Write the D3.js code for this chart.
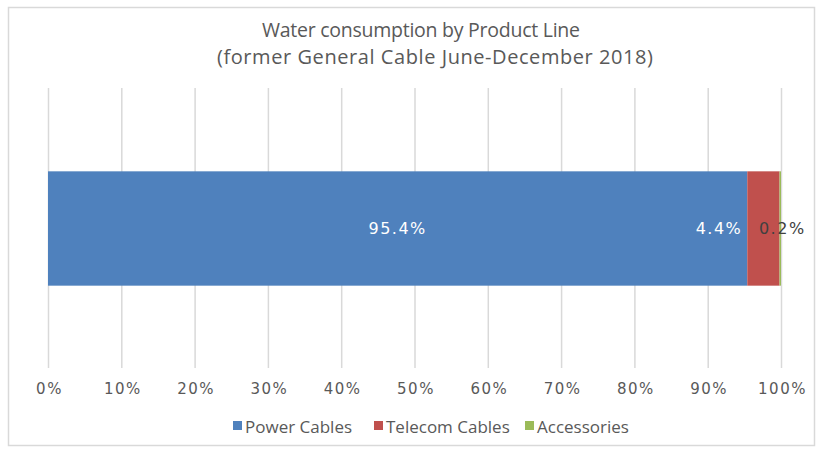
<!DOCTYPE html>
<html>
<head>
<meta charset="utf-8">
<script src="https://cdn.jsdelivr.net/npm/d3@7"></script>
<style>
  html, body { margin: 0; padding: 0; background: #fff; }
  svg { display: block; }
</style>
</head>
<body>
<svg id="chart" width="820" height="450"></svg>
<script>
// Share of water consumption per product line (percent)
const categories = ["Power Cables", "Telecom Cables", "Accessories"];
const shares = [95.4, 4.4, 0.2];
const colors = ["#4F81BD", "#C0504D", "#9BBB59"];
const tickValues = [0, 10, 20, 30, 40, 50, 60, 70, 80, 90, 100];
const titleLines = ["Water consumption by Product Line", "(former General Cable June-December 2018)"];

const svg = d3.select("#chart");
const W = 820, H = 450;
const margin = { left: 48, right: 39, top: 88, bottom: 83 };

// Outer chart frame
svg.append("rect")
  .attr("x", 8.5).attr("y", 7.5)
  .attr("width", W - 14).attr("height", H - 12)
  .attr("fill", "#fff").attr("stroke", "#d9d9d9").attr("stroke-width", 1.5);

const x = d3.scaleLinear().domain([0, 100]).range([margin.left, W - margin.right]);
const y = d3.scaleBand().domain(["row"])
  .range([margin.top + 1, H - margin.bottom + 1])
  .paddingInner(0).paddingOuter(0.72);

// Vertical gridlines
svg.append("g")
  .selectAll("line")
  .data(tickValues)
  .join("line")
  .attr("x1", d => x(d) + 0.5).attr("x2", d => x(d) + 0.5)
  .attr("y1", margin.top).attr("y2", H - margin.bottom + 1)
  .attr("stroke", "#d9d9d9").attr("stroke-width", 1.5);

// Stacked segments
let acc = 0;
const segments = shares.map((v, i) => {
  const s = { key: categories[i], value: v, x0: acc, x1: acc + v, color: colors[i] };
  acc += v;
  return s;
});

svg.append("g")
  .selectAll("rect")
  .data(segments)
  .join("rect")
  .attr("x", d => x(d.x0))
  .attr("y", y("row"))
  .attr("width", d => x(d.x1) - x(d.x0))
  .attr("height", y.bandwidth())
  .attr("fill", d => d.color);

// Value labels
const cy = y("row") + y.bandwidth() / 2;
const labelFont = "'DejaVu Sans', Verdana, sans-serif";
function valueLabel(xPos, anchor, color, text) {
  svg.append("text")
    .attr("x", xPos).attr("y", cy)
    .attr("text-anchor", anchor).attr("dominant-baseline", "central")
    .attr("font-family", labelFont).attr("font-size", 16)
    .attr("letter-spacing", 1.5)
    .attr("fill", color)
    .text(text);
}
valueLabel(x((segments[0].x0 + segments[0].x1) / 2), "middle", "#fff", shares[0].toFixed(1) + "%");
valueLabel(x(segments[1].x0) - 5, "end", "#fff", shares[1].toFixed(1) + "%");
valueLabel(x((segments[2].x0 + segments[2].x1) / 2) + 2, "middle", "#404040", shares[2].toFixed(1) + "%");

// Bottom axis labels
const axis = d3.axisBottom(x).tickValues(tickValues).tickFormat(d => d + "%").tickSize(0).tickPadding(0);
const axisG = svg.append("g")
  .attr("transform", `translate(1, ${H - margin.bottom + 16})`)
  .call(axis);
axisG.select(".domain").remove();
axisG.selectAll("text")
  .attr("font-family", labelFont).attr("font-size", 15)
  .attr("letter-spacing", 1.5)
  .attr("fill", "#595959");

// Title (two centred lines)
const titleX = [421, 435];
const titleWidth = [318, 436];
const titleSize = [19.5, 20];
svg.append("g")
  .selectAll("text")
  .data(titleLines)
  .join("text")
  .attr("x", (d, i) => titleX[i])
  .attr("y", (d, i) => 37 + i * 26.5)
  .attr("text-anchor", "middle")
  .attr("font-family", "'Open Sans', sans-serif")
  .attr("font-size", (d, i) => titleSize[i])
  .attr("textLength", (d, i) => titleWidth[i])
  .attr("lengthAdjust", "spacing")
  .attr("fill", "#595959")
  .text(d => d);

// Legend
const legendX = [233, 374, 525];
const legend = svg.append("g")
  .selectAll("g")
  .data(categories)
  .join("g")
  .attr("transform", (d, i) => `translate(${legendX[i]}, 426)`);
legend.append("rect")
  .attr("x", 0).attr("y", -5).attr("width", 9).attr("height", 9)
  .attr("fill", (d, i) => colors[i]);
legend.append("text")
  .attr("x", 12).attr("y", 0)
  .attr("dominant-baseline", "central")
  .attr("font-family", "'Open Sans', sans-serif").attr("font-size", 17)
  .attr("fill", "#595959")
  .text(d => d);
</script>
</body>
</html>
